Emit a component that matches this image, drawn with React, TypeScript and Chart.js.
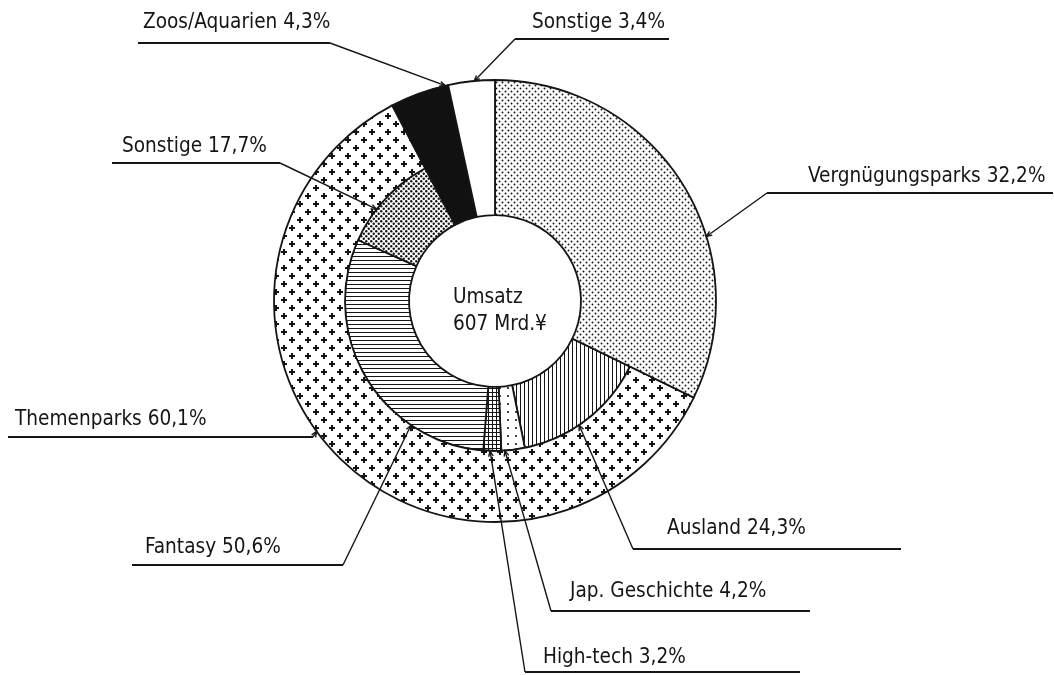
import React, { useEffect, useRef } from "react";
import { Chart, registerables } from "chart.js";

Chart.register(...registerables);

// ---------- data ----------
const mainCategories = ["Vergnügungsparks", "Themenparks", "Zoos/Aquarien", "Sonstige"];
const mainShares = [32.2, 60.1, 4.3, 3.4]; // % of total revenue
const themeCategories = ["Ausland", "Jap. Geschichte", "High-tech", "Fantasy", "Sonstige"];
const themeShares = [24.3, 4.2, 3.2, 50.6, 17.7]; // % of Themenparks
const centerLines = ["Umsatz", "607 Mrd.¥"];

// ---------- styles / layout ----------
const INK = "#151515";
const FONT = "20.6px 'DejaVu Sans Condensed', 'DejaVu Sans', sans-serif";
const mainPatterns = ["fineDots", "plus", "black", "white"];
const themePatterns = ["vlines", "sparseDots", "grid", "hlines", "denseDots"];

// label layout: dataset, element index, fraction along arc, text pos, horizontal line, elbow x
const labelLayout = [
  { ds: 0, idx: 0, f: 0.63, tx: 808, ty: 182, x1: 767, x2: 1053, ly: 193, ex: 767 },
  { ds: 0, idx: 3, f: 0.56, tx: 532, ty: 28, x1: 515, x2: 669, ly: 39, ex: 515 },
  { ds: 0, idx: 2, f: 0.95, tx: 143, ty: 28, x1: 138, x2: 330, ly: 43, ex: 330 },
  { ds: 1, idx: 5, f: 0.36, tx: 122, ty: 152, x1: 112, x2: 280, ly: 163, ex: 280 },
  { ds: 0, idx: 1, f: 0.545, tx: 15, ty: 425, x1: 8, x2: 313, ly: 437, ex: 313 },
  { ds: 1, idx: 4, f: 0.27, tx: 145, ty: 553, x1: 132, x2: 343, ly: 565, ex: 343 },
  { ds: 1, idx: 1, f: 0.57, tx: 667, ty: 534, x1: 633, x2: 901, ly: 549, ex: 633 },
  { ds: 1, idx: 2, f: 0.85, tx: 570, ty: 597, x1: 551, x2: 810, ly: 611, ex: 551 },
  { ds: 1, idx: 3, f: 0.62, tx: 543, ty: 663, x1: 525, x2: 800, ly: 672, ex: 525 },
];

const fmt = (v: number) => v.toFixed(1).replace(".", ",") + "%";

function tile(size: number, draw: (c: CanvasRenderingContext2D) => void): CanvasPattern | string {
  const cv = document.createElement("canvas");
  cv.width = size;
  cv.height = size;
  const c = cv.getContext("2d");
  if (!c) return "#fff";
  c.fillStyle = "#fff";
  c.fillRect(0, 0, size, size);
  c.fillStyle = INK;
  c.strokeStyle = INK;
  draw(c);
  return c.createPattern(cv, "repeat") || "#fff";
}

function dot(c: CanvasRenderingContext2D, x: number, y: number, r: number) {
  c.beginPath();
  c.arc(x, y, r, 0, Math.PI * 2);
  c.fill();
}

function buildPatterns(): Record<string, CanvasPattern | string> {
  return {
    black: "#111",
    white: "#fff",
    fineDots: tile(6, (c) => {
      dot(c, 1.5, 1.5, 0.95);
      dot(c, 4.5, 4.5, 0.95);
    }),
    plus: tile(16, (c) => {
      c.lineWidth = 2;
      const p = (x: number, y: number) => {
        c.beginPath();
        c.moveTo(x - 3, y);
        c.lineTo(x + 3, y);
        c.moveTo(x, y - 3);
        c.lineTo(x, y + 3);
        c.stroke();
      };
      p(4, 4);
      p(12, 12);
    }),
    vlines: tile(4, (c) => {
      c.fillRect(0, 0, 1, 4);
    }),
    hlines: tile(4, (c) => {
      c.fillRect(0, 0, 4, 1);
    }),
    grid: tile(4, (c) => {
      c.fillRect(0, 0, 1, 4);
      c.fillRect(0, 0, 4, 1);
    }),
    sparseDots: tile(8, (c) => {
      dot(c, 4, 4, 1.1);
    }),
    denseDots: tile(5, (c) => {
      dot(c, 1.25, 1.25, 1.2);
      dot(c, 3.75, 3.75, 1.2);
    }),
  };
}

export default function App() {
  const ref = useRef<HTMLCanvasElement | null>(null);

  useEffect(() => {
    const canvas = ref.current;
    if (!canvas) return;
    const pats = buildPatterns();

    const themeValues = themeShares.map((s) => (s * mainShares[1]) / 100);
    const innerData = [mainShares[0], ...themeValues, mainShares[2], mainShares[3]];
    const innerFill = [
      pats[mainPatterns[0]],
      ...themePatterns.map((p) => pats[p]),
      pats[mainPatterns[2]],
      pats[mainPatterns[3]],
    ];
    const innerBorder = [0, ...themeValues.map(() => 1.8), 0, 0];
    // outer index -> inner index for categories spanning both rings
    const merged: [number, number][] = [
      [0, 0],
      [2, innerData.length - 2],
      [3, innerData.length - 1],
    ];

    const labelText = (ds: number, idx: number) =>
      ds === 0
        ? `${mainCategories[idx]} ${fmt(mainShares[idx])}`
        : `${themeCategories[idx - 1]} ${fmt(themeShares[idx - 1])}`;

    const overlay = {
      id: "overlay",
      afterDatasetsDraw(chart: any) {
        const ctx: CanvasRenderingContext2D = chart.ctx;
        const outer = chart.getDatasetMeta(0).data;
        const inner = chart.getDatasetMeta(1).data;
        merged.forEach(([oi, ii]) => {
          const a = outer[oi];
          const b = inner[ii];
          ctx.save();
          ctx.beginPath();
          ctx.arc(a.x, a.y, a.outerRadius, a.startAngle, a.endAngle);
          ctx.arc(a.x, a.y, b.innerRadius, b.endAngle, b.startAngle, true);
          ctx.closePath();
          ctx.fillStyle = pats[mainPatterns[oi]] as any;
          ctx.fill();
          ctx.lineWidth = 1.8;
          ctx.strokeStyle = INK;
          ctx.stroke();
          ctx.restore();
        });
      },
      afterDraw(chart: any) {
        const ctx: CanvasRenderingContext2D = chart.ctx;
        ctx.save();
        ctx.strokeStyle = INK;
        ctx.fillStyle = INK;
        ctx.font = FONT;
        ctx.textBaseline = "alphabetic";
        ctx.textAlign = "left";
        labelLayout.forEach((L) => {
          const el = chart.getDatasetMeta(L.ds).data[L.idx];
          const ang = el.startAngle + L.f * (el.endAngle - el.startAngle);
          const tx = el.x + el.outerRadius * Math.cos(ang);
          const ty = el.y + el.outerRadius * Math.sin(ang);
          ctx.lineWidth = 1.9;
          ctx.beginPath();
          ctx.moveTo(L.x1, L.ly);
          ctx.lineTo(L.x2, L.ly);
          ctx.stroke();
          ctx.lineWidth = 1.4;
          ctx.beginPath();
          ctx.moveTo(L.ex, L.ly);
          ctx.lineTo(tx, ty);
          ctx.stroke();
          // small arrow head
          const dir = Math.atan2(ty - L.ly, tx - L.ex);
          ctx.beginPath();
          ctx.moveTo(tx - 6 * Math.cos(dir - 0.4), ty - 6 * Math.sin(dir - 0.4));
          ctx.lineTo(tx, ty);
          ctx.lineTo(tx - 6 * Math.cos(dir + 0.4), ty - 6 * Math.sin(dir + 0.4));
          ctx.stroke();
          ctx.fillText(labelText(L.ds, L.idx), L.tx, L.ty);
        });
        // centre text
        const c0 = chart.getDatasetMeta(1).data[0];
        ctx.fillText(centerLines[0], c0.x - 42, c0.y + 2);
        ctx.fillText(centerLines[1], c0.x - 42, c0.y + 29);
        ctx.restore();
      },
    };

    const chart = new Chart(canvas, {
      type: "doughnut",
      data: {
        labels: [mainCategories[0], ...themeCategories, mainCategories[2], mainCategories[3]],
        datasets: [
          {
            data: mainShares,
            backgroundColor: mainPatterns.map((p) => pats[p]) as any,
            borderColor: INK,
            borderWidth: [0, 1.8, 0, 0],
            weight: 71,
          } as any,
          {
            data: innerData,
            backgroundColor: innerFill as any,
            borderColor: INK,
            borderWidth: innerBorder,
            weight: 64,
          } as any,
        ],
      },
      options: {
        responsive: false,
        animation: false,
        devicePixelRatio: 1,
        radius: 221,
        cutout: "38.9%",
        events: [],
        layout: { padding: { left: 0, right: 64, top: 0, bottom: 73 } },
        plugins: { legend: { display: false }, tooltip: { enabled: false } },
      } as any,
      plugins: [overlay],
    });
    return () => chart.destroy();
  }, []);

  return (
    <div style={{ position: "absolute", left: 0, top: 0, width: 1054, height: 675, background: "#fff" }}>
      <canvas ref={ref} width={1054} height={675} style={{ display: "block", width: 1054, height: 675 }} />
    </div>
  );
}
